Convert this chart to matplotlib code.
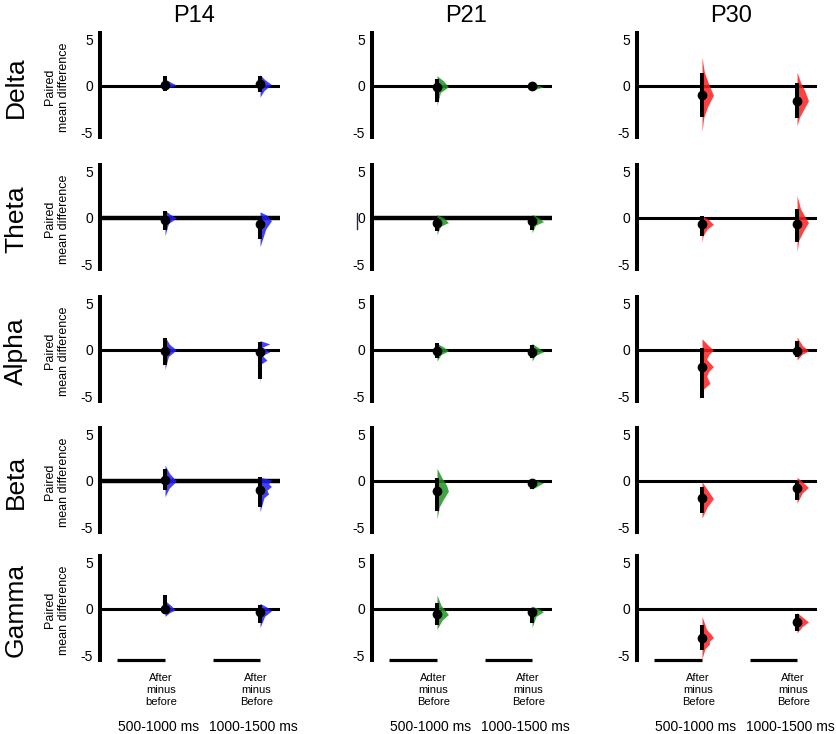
import numpy as np
import matplotlib
matplotlib.use('Agg')
import matplotlib.pyplot as plt

plt.rcParams['font.family'] = ['Liberation Sans', 'DejaVu Sans']

ages = ['P14', 'P21', 'P30']
bands = ['Delta', 'Theta', 'Alpha', 'Beta', 'Gamma']
windows = ['500-1000 ms', '1000-1500 ms']
contrast_labels = {'P14': ['After\nminus\nbefore', 'After\nminus\nBefore'],
                   'P21': ['Adter\nminus\nBefore', 'After\nminus\nBefore'],
                   'P30': ['After\nminus\nBefore', 'After\nminus\nBefore']}

# paired mean difference, rows = bands, cols = windows
p14_mean = [[0.1, 0.2], [-0.2, -0.7], [-0.1, -0.2], [0.1, -1.0], [0.0, -0.3]]
p14_lo = [[-0.5, -0.7], [-1.3, -2.3], [-1.6, -3.1], [-1.0, -2.8], [-0.6, -1.5]]
p14_hi = [[1.06, 1.06], [0.8, 0.25], [1.3, 0.9], [1.3, 0.4], [1.5, 0.4]]

p21_mean = [[-0.1, 0.0], [-0.55, -0.35], [-0.1, -0.2], [-1.05, -0.2], [-0.55, -0.35]]
p21_lo = [[-1.7, -0.2], [-1.4, -1.25], [-0.9, -0.9], [-3.2, -0.85], [-1.7, -1.5]]
p21_hi = [[0.8, 0.2], [0.0, 0.2], [0.7, 0.5], [0.3, 0.1], [0.6, 0.1]]

p30_mean = [[-1.0, -1.6], [-0.7, -0.65], [-1.8, -0.1], [-1.85, -0.8], [-3.1, -1.4]]
p30_lo = [[-3.3, -3.5], [-1.95, -2.6], [-5.2, -0.75], [-3.45, -2.1], [-4.45, -2.4]]
p30_hi = [[1.35, 0.3], [0.25, 0.95], [0.25, 1.0], [-0.7, 0.0], [-1.7, -0.5]]

# bootstrap distribution outlines: (value, relative width)
p14_dist = [
    [[(0.75, 0), (0.4, 0.5), (0.1, 1), (-0.15, 0.4), (-0.4, 0)],
     [(1.2, 0), (0.7, 0.4), (0.15, 1), (-0.5, 0.35), (-1.2, 0)]],
    [[(0.8, 0), (0.4, 0.45), (0.0, 1), (-0.6, 0.3), (-1.9, 0)],
     [(0.65, 0), (0.3, 0.6), (-0.3, 1), (-1.2, 0.5), (-3.1, 0)]],
    [[(1.4, 0), (0.6, 0.4), (0.0, 1), (-0.7, 0.3), (-2.1, 0)],
     [(1.0, 0), (0.65, 0.85), (0.3, 0.2), (-0.2, 0.85), (-0.6, 0.2), (-1.1, 0.6), (-1.5, 0.1), (-3.7, 0)]],
    [[(1.7, 0), (0.8, 0.4), (0.0, 1), (-0.8, 0.35), (-1.7, 0)],
     [(0.4, 0), (0.1, 1.0), (-0.3, 0.75), (-0.6, 1.0), (-1.0, 0.6), (-1.4, 0.75), (-1.8, 0.35), (-3.3, 0)]],
    [[(0.9, 0), (0.4, 0.5), (-0.1, 0.9), (-0.4, 0.4), (-0.8, 0)],
     [(0.6, 0), (0.2, 0.6), (-0.2, 1.0), (-0.8, 0.4), (-2.0, 0)]],
]
p21_dist = [
    [[(1.1, 0), (0.5, 0.6), (-0.1, 1), (-0.7, 0.3), (-2.1, 0)],
     [(0.2, 0), (-0.1, 1.0), (-0.45, 0)]],
    [[(0.35, 0), (0.0, 0.6), (-0.5, 1), (-0.9, 0.3), (-1.8, 0)],
     [(0.4, 0), (0.0, 0.6), (-0.4, 1), (-0.8, 0.3), (-1.6, 0)]],
    [[(0.7, 0), (0.3, 0.6), (-0.1, 1), (-0.5, 0.35), (-1.2, 0)],
     [(0.7, 0), (0.2, 0.6), (-0.2, 1), (-0.6, 0.3), (-1.2, 0)]],
    [[(1.35, 0), (0.3, 0.45), (-0.5, 0.85), (-1.1, 1), (-1.9, 0.6), (-2.8, 0.2), (-4.1, 0)],
     [(0.15, 0), (-0.2, 1), (-0.9, 0)]],
    [[(1.5, 0), (0.4, 0.35), (-0.6, 1), (-1.2, 0.45), (-2.2, 0)],
     [(0.3, 0), (0.0, 0.6), (-0.3, 1), (-0.8, 0.35), (-2.0, 0)]],
]
p30_dist = [
    [[(3.1, 0), (1.5, 0.2), (0.3, 0.55), (-1.0, 1), (-2.2, 0.5), (-3.4, 0.15), (-4.9, 0)],
     [(1.5, 0), (0.4, 0.3), (-0.6, 0.7), (-1.6, 1), (-2.6, 0.55), (-3.4, 0.2), (-4.3, 0)]],
    [[(0.25, 0), (-0.2, 0.6), (-0.7, 1), (-1.2, 0.45), (-1.9, 0.1), (-2.6, 0)],
     [(2.4, 0), (1.0, 0.3), (0.0, 0.75), (-0.5, 1), (-1.3, 0.6), (-2.4, 0.15), (-3.6, 0)]],
    [[(1.2, 0), (0.5, 0.55), (0.0, 1), (-0.5, 0.6), (-1.0, 0.4), (-1.8, 1), (-2.3, 0.6), (-2.8, 0.4), (-3.6, 0.7), (-4.35, 0)],
     [(1.4, 0), (0.5, 0.45), (-0.1, 1), (-0.5, 0.4), (-1.1, 0)]],
    [[(-0.1, 0), (-1.0, 0.5), (-1.9, 1), (-2.8, 0.45), (-4.0, 0)],
     [(0.4, 0), (-0.2, 0.55), (-0.7, 1), (-1.3, 0.45), (-2.4, 0)]],
    [[(-0.8, 0), (-2.2, 0.4), (-2.75, 0.8), (-3.1, 1), (-3.45, 0.65), (-3.8, 0.65), (-4.3, 0.25), (-5.4, 0)],
     [(-0.4, 0), (-0.9, 0.5), (-1.4, 1), (-1.9, 0.45), (-2.6, 0)]],
]

data = {'P14': (p14_mean, p14_lo, p14_hi, p14_dist),
        'P21': (p21_mean, p21_lo, p21_hi, p21_dist),
        'P30': (p30_mean, p30_lo, p30_hi, p30_dist)}
colors = {'P14': '#1f1fff', 'P21': '#1e961e', 'P30': '#ff1f1f'}

W, H = 837, 734
fig = plt.figure(figsize=(W / 100, H / 100), dpi=100)

col_left = [100, 372, 637]
row_top = [33, 165, 297, 428, 556]
ax_w, ax_h = 180, 104
ylo, yhi = -5.5, 5.7
xlo, xhi = 0.316, 2.21
xs = [1, 2]

for c, age in enumerate(ages):
    mean, lo, hi, dist = data[age]
    for r, band in enumerate(bands):
        ax = fig.add_axes([col_left[c] / W, 1 - (row_top[r] + ax_h) / H, ax_w / W, ax_h / H])
        ax.set_xlim(xlo, xhi)
        ax.set_ylim(ylo, yhi)
        for s in ['top', 'right', 'bottom']:
            ax.spines[s].set_visible(False)
        ax.spines['left'].set_linewidth(2.9)
        ax.set_xticks([])
        ax.set_yticks([-5, 0, 5])
        ax.set_yticklabels(['-5', '0', '5'])
        ax.tick_params(axis='y', length=0, pad=5, labelsize=10)
        zlw = 3.2 if (age == 'P14' and band in ('Theta', 'Beta')) or (age == 'P21' and band == 'Theta') else 2.2
        ax.axhline(0, color='black', lw=zlw, zorder=2)

        for k, x in enumerate(xs):
            prof = np.array(dist[r][k])
            ax.fill_betweenx(prof[:, 0], x, x + 0.12 * prof[:, 1],
                             color=colors[age], alpha=0.85, lw=0, zorder=3)
            ax.plot([x, x], [lo[r][k], hi[r][k]], color='black', lw=2.9,
                    solid_capstyle='butt', zorder=4)
            ax.plot(x, mean[r][k], 'o', color='black', ms=6, zorder=5)

        if age == 'P21' and band == 'Theta':
            ax.plot([0.16, 0.16], [0.5, -1.2], color='#1a2a5a', lw=1.0, clip_on=False)

        if r == len(bands) - 1:
            for k, x in enumerate(xs):
                ax.plot([x - 0.5, x], [ylo, ylo], color='black', lw=2.3,
                        solid_capstyle='butt', clip_on=False)
                ax.annotate(contrast_labels[age][k], xy=(x - 0.04, ylo), xytext=(0, -30),
                            textcoords='offset pixels', ha='center', va='center',
                            fontsize=8, linespacing=1.2, annotation_clip=False)
                ax.annotate(windows[k], xy=(x - 0.07, ylo), xytext=(0, -67),
                            textcoords='offset pixels', ha='center', va='center',
                            fontsize=10, annotation_clip=False)

        if c == 0:
            yc = 1 - (row_top[r] + 54) / H
            fig.text(16 / W, yc, band, rotation=90, ha='center', va='center', fontsize=19)
            fig.text(57 / W, yc, 'Paired\nmean difference', rotation=90,
                     ha='center', va='center', fontsize=9, linespacing=1.3)

    fig.text((col_left[c] + ax_w / 2 + 4) / W, 1 - 16 / H, age, ha='center', va='center', fontsize=17)

fig.savefig('out.png', dpi=100)
